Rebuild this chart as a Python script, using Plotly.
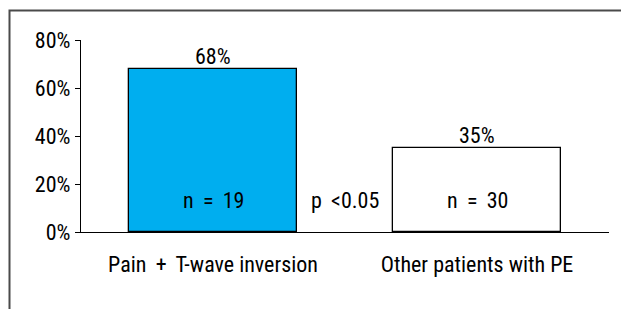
import plotly.graph_objects as go

categories = ["Pain \u2009+\u2009 T-wave inversion", "Other patients with PE"]
values = [68, 35]
n_values = [19, 30]
p_text = "p\u2009 <0.05"
tick_vals = [0, 20, 40, 60, 80]
tick_text = ["0%", "20%", "40%", "60%", "80%"]

FONT = "Liberation Sans Narrow, Roboto Condensed, Arial Narrow, Roboto, sans-serif"
FS = 22

fig = go.Figure()
fig.add_trace(go.Bar(
    x=[0, 1], y=values,
    width=0.636,
    marker=dict(color=["#00AEEF", "#FFFFFF"], line=dict(color="#000000", width=1.3)),
    hoverinfo="skip",
))

for i, v in enumerate(values):
    fig.add_annotation(x=i, y=v, xref="x", yref="y", text=f"{v}%",
                       yanchor="bottom", yshift=-2, showarrow=False,
                       font=dict(family=FONT, size=FS, color="#000"))
for i, n in enumerate(n_values):
    fig.add_annotation(x=i, y=13, xref="x", yref="y", text=f"n \u2009=\u2009 {n}",
                       showarrow=False, font=dict(family=FONT, size=FS, color="#000"))
fig.add_annotation(x=0.5, y=13, xref="x", yref="y", text=p_text,
                   showarrow=False, font=dict(family=FONT, size=FS, color="#000"))

W, H = 621, 309
L, R, T, B = 81, 12, 40, 77
pw, ph = W - L - R, H - T - B
def px(xp):
    return (xp - L) / pw
def py(yp):
    return (H - B - yp) / ph

# outer frame (top and left edges only), as one open path in paper coordinates
fx0, fx1 = px(9.5), px(W + 4)
fy0, fy1 = py(H + 4), py(10.5)
fig.add_shape(type="path", xref="paper", yref="paper",
              path=f"M {fx0},{fy0} L {fx0},{fy1} L {fx1},{fy1}",
              line=dict(color="#4a4a4a", width=2), fillcolor="rgba(0,0,0,0)")

fig.update_layout(
    width=W, height=H,
    margin=dict(l=L, r=R, t=T, b=B, pad=0),
    paper_bgcolor="white", plot_bgcolor="white",
    showlegend=False,
    bargap=0,
    font=dict(family=FONT, size=FS, color="#000"),
    xaxis=dict(range=[-0.5, 1.5], tickvals=[0, 1], ticktext=categories,
               showline=True, linecolor="#000", linewidth=1.3, ticks="",
               ticklabelstandoff=12,
               showgrid=False, zeroline=False, fixedrange=True,
               tickfont=dict(family=FONT, size=FS, color="#000")),
    yaxis=dict(range=[0, 80], tickvals=tick_vals, ticktext=tick_text,
               showline=True, linecolor="#000", linewidth=1.3,
               ticks="outside", ticklen=5, tickcolor="#000", tickwidth=1.3,
               showgrid=False, zeroline=False, fixedrange=True,
               tickfont=dict(family=FONT, size=FS, color="#000")),
)

fig.write_html(
    "out.html",
    config={"displayModeBar": False},
    post_script="document.body.style.margin='0';document.documentElement.style.overflow='hidden';",
)
